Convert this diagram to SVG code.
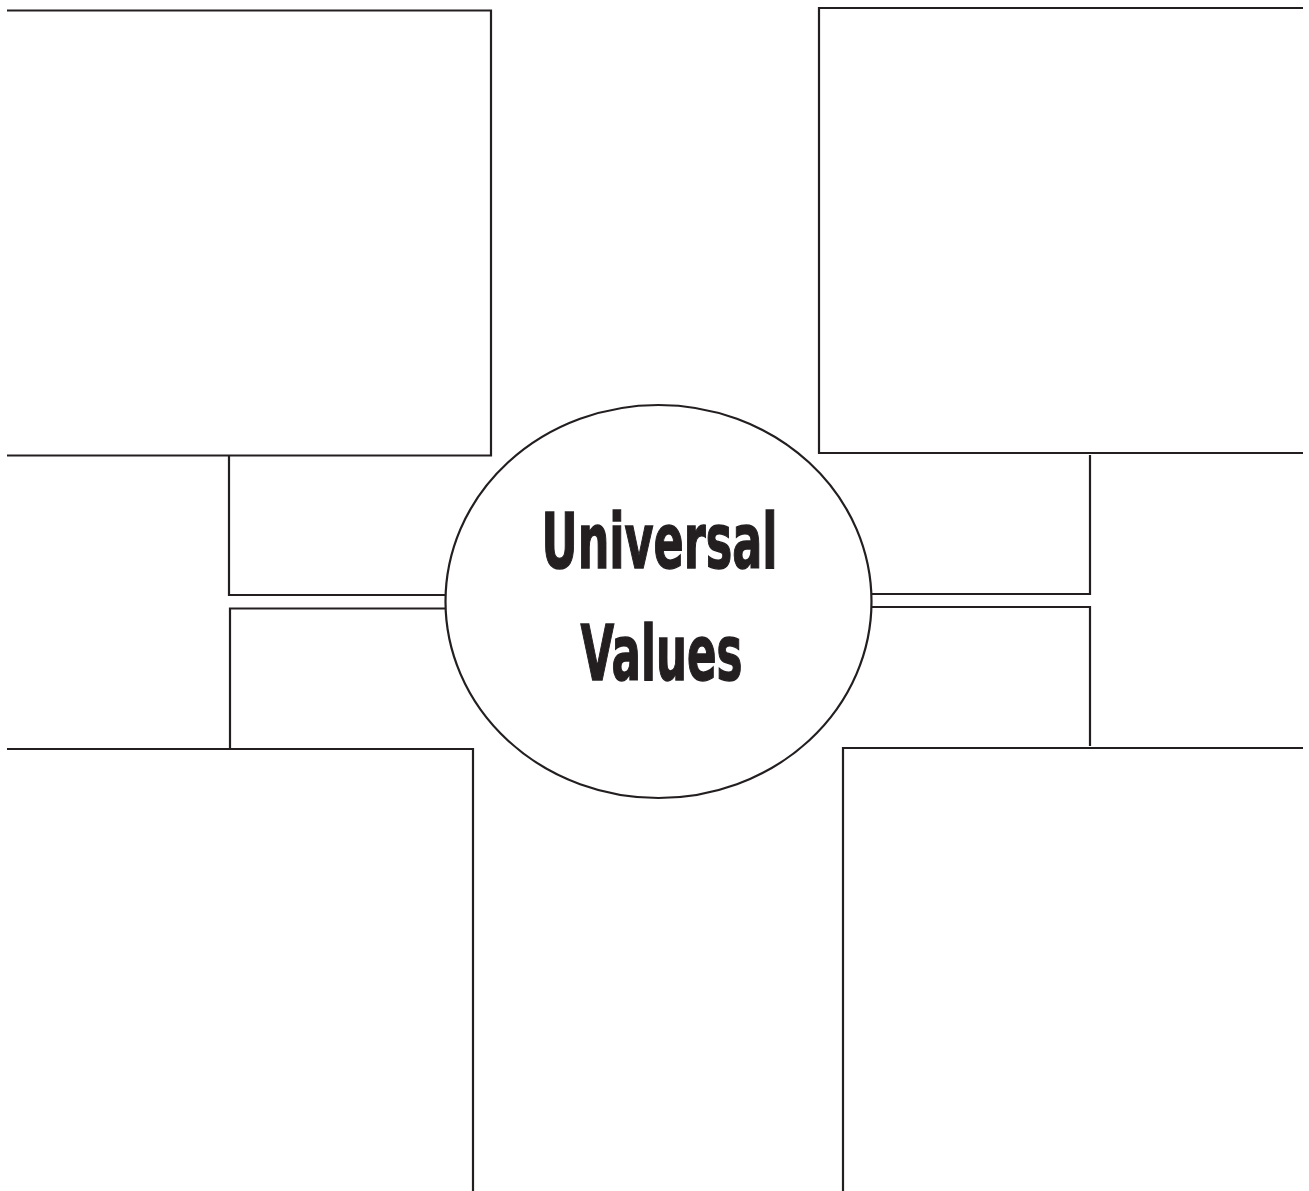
<svg xmlns="http://www.w3.org/2000/svg" width="1309" height="1191" viewBox="0 0 1309 1191">
<style>
.ln{fill:none;stroke:#231f20;stroke-width:2.2;stroke-linejoin:miter;stroke-linecap:butt}
.lbl{font-family:"Liberation Sans Narrow","DejaVu Sans Condensed","Liberation Sans",sans-serif;font-weight:bold;font-size:77px;fill:#231f20;stroke:#231f20;stroke-width:1.4;text-anchor:middle}
</style>
<rect width="1309" height="1191" fill="#ffffff"/>
<g id="box-top-left"><path class="ln" d="M7,10.5 H491 V455.5 H7"/></g>
<g id="box-top-right"><path class="ln" d="M1303,8 H819 V453 H1303"/></g>
<g id="box-bottom-left"><path class="ln" d="M7,749 H473 V1191"/></g>
<g id="box-bottom-right"><path class="ln" d="M1303,748 H843 V1191"/></g>
<g id="connectors">
<path class="ln" d="M229,455.5 V595 H446"/>
<path class="ln" d="M446,608.5 H230 V749"/>
<path class="ln" d="M1090,455 V594 H871"/>
<path class="ln" d="M871,607 H1090 V746"/>
</g>
<g id="center">
<ellipse class="ln" cx="658.5" cy="601.5" rx="213" ry="196.5" fill="#ffffff"/>
<text class="lbl" x="659.5" y="568" textLength="236" lengthAdjust="spacingAndGlyphs">Universal</text>
<text class="lbl" x="661.5" y="680" textLength="162" lengthAdjust="spacingAndGlyphs">Values</text>
</g>
</svg>
